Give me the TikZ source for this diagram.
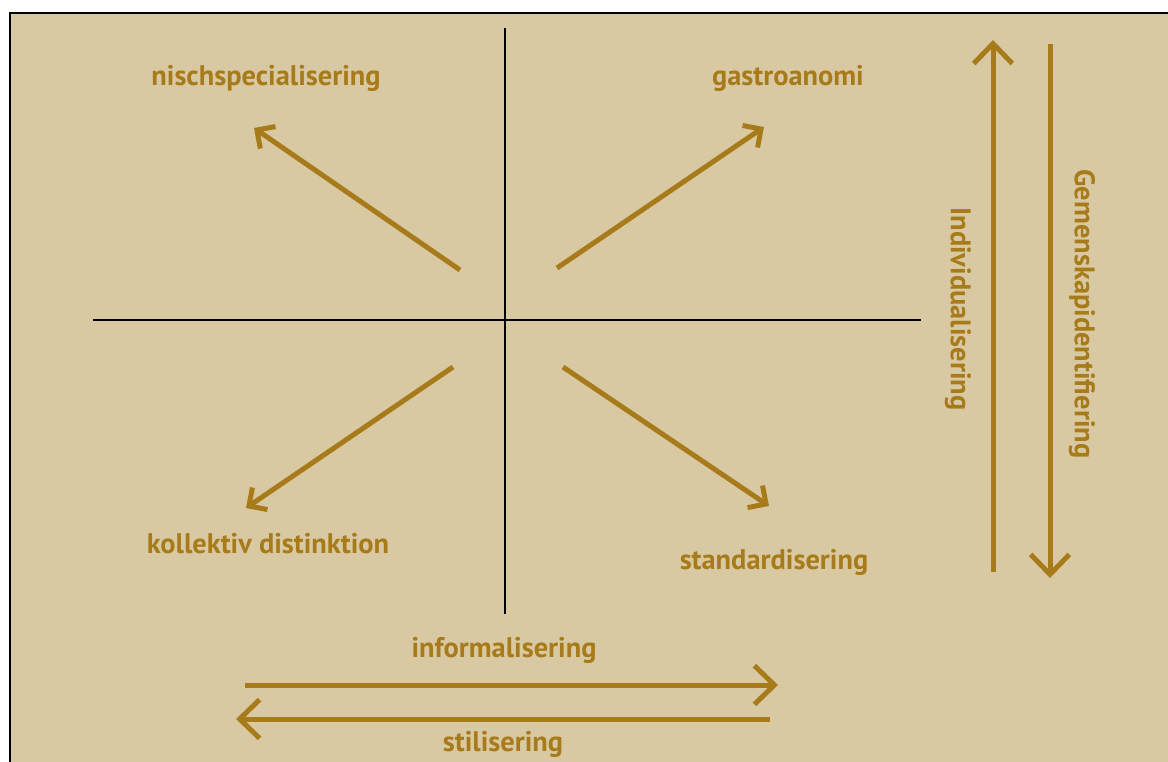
\documentclass[tikz,border=0pt]{standalone}
\usepackage{fontspec}
\setsansfont{PT Sans}
\usepackage{tikz}
\usetikzlibrary{arrows.meta,positioning}

\definecolor{paper}{RGB}{217,201,163}
\definecolor{gold}{RGB}{168,123,26}

\tikzset{
  axis/.style = {black, line width=1.5pt},
  arr/.style = {gold, line width=3.75pt, -{Straight Barb[length=10pt, width=20pt, line width=3.75pt]}},
  bigarr/.style = {gold, line width=3.75pt, -{Straight Barb[length=15pt, width=29pt, line width=3.75pt]}},
  lbl/.style = {gold, font=\sffamily\bfseries\fontsize{21.3}{24}\selectfont, inner sep=0pt}
}

\begin{document}
\begin{tikzpicture}[x=0.75pt, y=-0.75pt]
   \useasboundingbox (0,0) rectangle (1168,761);
   \fill[white] (0,0) rectangle (1168,761);
   \filldraw[fill=paper, draw=black, line width=2.2pt] (10,13) rectangle (1220,820);

   % axes
   \coordinate (top) at (505,28);
   \coordinate (bot) at (505,614);
   \coordinate (lft) at (93,320);
   \coordinate (rgt) at (921,320);
   \draw[axis] (top) -- (bot);
   \draw[axis] (lft) -- (rgt);

   % diagonal arrows
   \coordinate (nw_s) at (460,270);  \coordinate (nw_e) at (254,128);
   \coordinate (ne_s) at (557,268);  \coordinate (ne_e) at (764,127);
   \coordinate (sw_s) at (453,367);  \coordinate (sw_e) at (246,508);
   \coordinate (se_s) at (563,367);  \coordinate (se_e) at (769,506);
   \path[arr]
    (nw_s) edge (nw_e)
    (ne_s) edge (ne_e)
    (sw_s) edge (sw_e)
    (se_s) edge (se_e);

   % quadrant labels
   \node[lbl] (nisch) at (266,78) {nischspecialisering};
   \node[lbl] (gastro) at (788,78) {gastroanomi};
   \node[lbl] (koll) at (268,544) {kollektiv distinktion};
   \node[lbl] (stand) at (774,562) {standardisering};

   % vertical arrows
   \coordinate (up_s) at (993,572);  \coordinate (up_e) at (993,40);
   \coordinate (dn_s) at (1050,44);  \coordinate (dn_e) at (1050,578);
   \path[bigarr]
    (up_s) edge (up_e)
    (dn_s) edge (dn_e);
   \node[lbl, rotate=-90] (indiv) at (958,309) {Individualisering};
   \node[lbl, rotate=-90] (gemen) at (1082,314) {Gemenskapidentifiering};

   % horizontal arrows
   \coordinate (ri_s) at (245,685);  \coordinate (ri_e) at (778,685);
   \coordinate (le_s) at (770,719);  \coordinate (le_e) at (236,719);
   \path[bigarr]
    (ri_s) edge (ri_e)
    (le_s) edge (le_e);
   \node[lbl] (inform) at (504,650) {informalisering};
   \node[lbl] (stil) at (503,744) {stilisering};
\end{tikzpicture}
\end{document}
